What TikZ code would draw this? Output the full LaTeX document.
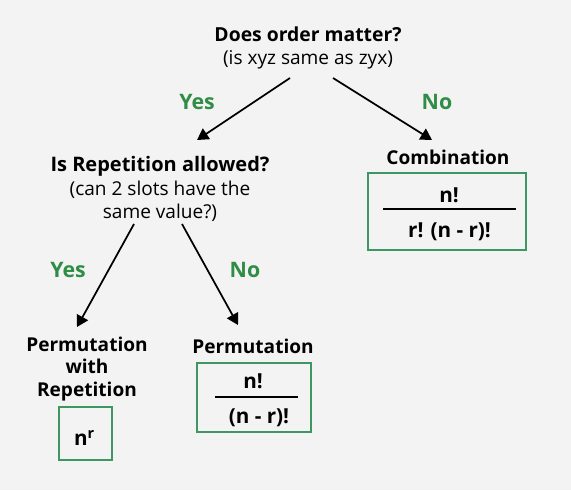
\documentclass[tikz,border=0pt]{standalone}
\usepackage{fontspec}
\setmainfont{Open Sans}
\usetikzlibrary{arrows.meta}
\definecolor{yesno}{RGB}{47,141,70}
\definecolor{boxline}{RGB}{62,150,98}
\definecolor{backgr}{RGB}{243,243,243}

\begin{document}
\begin{tikzpicture}[x=0.75pt, y=-0.75pt,
    ask/.style={align=center, inner sep=0pt, font=\fontsize{14.3}{17.5}\selectfont},
    outcome/.style={align=center, inner sep=0pt, font=\fontsize{14.3}{17}\selectfont\bfseries},
    reply/.style={text=yesno, font=\fontsize{16}{18}\selectfont\bfseries},
    formula/.style={draw=boxline, line width=1.5pt, inner sep=0pt},
    term/.style={anchor=base, inner sep=0pt, font=\fontsize{15.5}{18}\selectfont\bfseries},
    bar/.style={line width=1.5pt},
    arr/.style={-{Triangle[length=8.5pt,width=9.5pt]}, line width=1.3pt}]
    % Background
    \fill[backgr] (0,0) rectangle (571,490);
    \useasboundingbox (0,0) rectangle (571,490);
    % Questions
    \node[ask] (q1) at (308,48) {\textbf{\fontsize{14.5}{17.5}\selectfont Does order matter?}\\(is xyz same as zyx)};
    \node[ask] (q2) at (160,189) {\textbf{\fontsize{15}{17.5}\selectfont Is Repetition allowed?}\\(can 2 slots have the\\same value?)};
    % Outcomes
    \node[outcome] (comb) at (448,157) {Combination};
    \node[outcome] (permrep) at (87,369) {Permutation\\with\\Repetition};
    \node[outcome] (perm) at (253,346) {Permutation};
    % Formula boxes
    \node[formula, minimum width=118.5pt, minimum height=57.75pt] (combf) at (447,211.5) {};
    \node[term] (combnum) at (449,202) {n!};
    \node[term] (combden) at (449.5,237) {r! (n - r)!};
    \draw[bar] (383,209) -- (516,209);
    \node[formula, minimum width=85.5pt, minimum height=51.75pt] (permf) at (254,397.5) {};
    \node[term] (permnum) at (253,388) {n!};
    \node[term] (permden) at (259,423) {(n - r)!};
    \draw[bar] (215,397) -- (298,397);
    \node[formula, minimum width=39.75pt, minimum height=39.75pt] (permrepf) at (85.5,433.5) {};
    \node[term] (permrepterm) at (84.5,445) {n\textsuperscript{r}};
    % Answers
    \node[reply] (yes1) at (197,102) {Yes};
    \node[reply] (no1) at (437,102) {No};
    \node[reply] (yes2) at (68,270) {Yes};
    \node[reply] (no2) at (245,270) {No};
    % Arrows
    \draw[arr] ([shift={(-18,30)}]q1.center) -- ([shift={(37,-49)}]q2.center);
    \draw[arr] ([shift={(25,30)}]q1.center) -- ([shift={(-16,-17)}]comb.center);
    \draw[arr] ([shift={(-26,35)}]q2.center) -- ([shift={(-10,-42)}]permrep.center);
    \draw[arr] ([shift={(22,35)}]q2.center) -- ([shift={(-15,-21)}]perm.center);
\end{tikzpicture}
\end{document}
